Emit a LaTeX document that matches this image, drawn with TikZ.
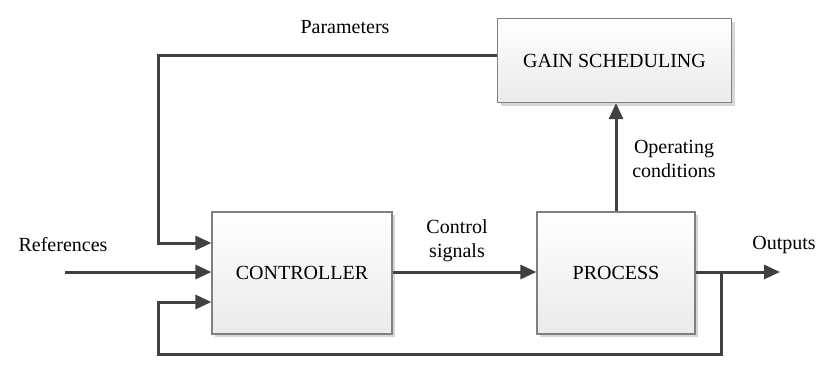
\documentclass[tikz,border=0pt]{standalone}
\usepackage{fontspec}
\setmainfont{Liberation Serif}
\newfontfamily\tnr{Liberation Serif}
\usetikzlibrary{arrows.meta,shadows}
\definecolor{linec}{HTML}{404040}
\definecolor{boxc}{HTML}{808080}
\tikzset{
  blockbox/.style={draw=boxc, line width=1.2pt, top color=white, bottom color=black!8,
    drop shadow={shadow xshift=3pt, shadow yshift=-3pt, fill=black!20, opacity=0.8},
    font=\tnr\fontsize{20}{24}\selectfont, inner sep=0pt},
  conn/.style={draw=linec, line width=3pt},
  arr/.style={conn, -{Triangle[length=16pt,width=14pt]}},
  lbl/.style={font=\tnr\fontsize{20}{24}\selectfont, align=center, inner sep=0pt}
}
\begin{document}
\begin{tikzpicture}[x=1pt,y=-1pt]
\useasboundingbox (0,0) rectangle (821,365);
\node[blockbox, minimum width=234pt, minimum height=84pt] (gs) at (614.5,60.5) {GAIN SCHEDULING};
\node[blockbox, minimum width=180pt, minimum height=122pt] (ctrl) at (302,273) {CONTROLLER};
\node[blockbox, minimum width=158pt, minimum height=122pt] (proc) at (616,273) {PROCESS};
\coordinate (pl) at (158,55);
\coordinate (refin) at (65,272);
\coordinate (out) at (780,272);
\coordinate (tap) at (721,272);
\coordinate (fbl) at (158,354);
% parameters
\draw[arr] (gs.west |- pl) -- (pl) -- (158,243) -- (ctrl.west |- 0,243);
% references
\draw[arr] (refin) -- (ctrl.west |- refin);
% feedback
\draw[arr] (tap) -- (tap |- fbl) -- (fbl) -- (158,302) -- (ctrl.west |- 0,302);
% control signals
\draw[arr] (ctrl.east |- 0,272) -- (proc.west |- 0,272);
% outputs
\draw[arr] (proc.east |- 0,272) -- (out);
% operating conditions
\draw[arr] (proc.north) -- (proc.north |- gs.south);
\node[lbl] (lpar) at (345,27) {Parameters};
\node[lbl] (lref) at (63,245) {References};
\node[lbl] (lcs) at (457,241) {Control\\signals};
\node[lbl] (lop) at (674,159) {Operating\\conditions};
\node[lbl] (lout) at (784,245) {Outputs};
\end{tikzpicture}
\end{document}
